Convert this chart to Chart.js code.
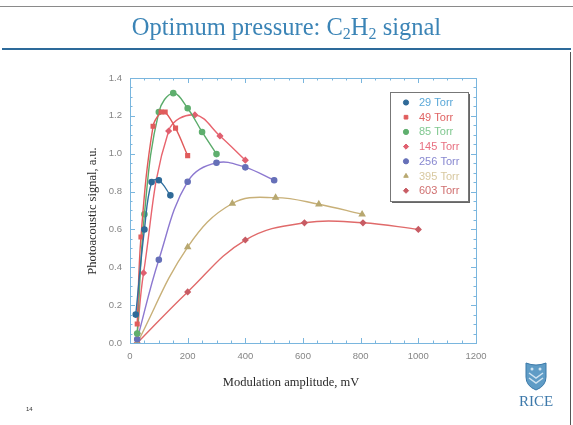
<!DOCTYPE html>
<html>
<head>
<meta charset="utf-8">
<script src="https://cdn.jsdelivr.net/npm/chart.js"></script>
<style>
  html, body { margin: 0; padding: 0; background: #fff; }
  #slide { position: relative; width: 573px; height: 425px; overflow: hidden; background: #fff; }
  #chart { position: absolute; left: 0; top: 0; }
  .title { position: absolute; left: 0; width: 573px; top: 13px; text-align: center;
           font-family: "Liberation Serif", "DejaVu Serif", serif; font-size: 24.5px; color: #3b84b6; }
  .title sub { font-size: 16px; vertical-align: -4px; line-height: 0; }
  .topline { position: absolute; left: 0; top: 6px; width: 573px; height: 1px; background: #8a8a8a; }
  .rule { position: absolute; left: 2px; top: 48px; width: 569px; height: 2px; background: #2d6a9a; }
  .rborder { position: absolute; left: 570px; top: 52px; width: 1px; height: 373px; background: #555; }
  .num { position: absolute; left: 26px; top: 406px; font: 6px "Liberation Sans", sans-serif; color: #333; }
  .rice { position: absolute; left: 516px; top: 361px; width: 40px; text-align: center; }
  .rice span { display: block; font-family: "Liberation Serif", serif; font-size: 15px; color: #3c78aa; margin-top: -2px; }
</style>
</head>
<body>
<div id="slide">
  <canvas id="chart" width="573" height="425"></canvas>
  <div class="topline"></div>
  <div class="title">Optimum pressure: C<sub>2</sub>H<sub>2</sub> signal</div>
  <div class="rule"></div>
  <div class="rborder"></div>
  <div class="num">14</div>
  <div class="rice">
    <svg width="24" height="30" viewBox="0 0 24 30">
      <path d="M2 2 Q12 6 22 2 L22 16 Q22 25 12 29 Q2 25 2 16 Z" fill="#5f9cc6" stroke="#3a78a8" stroke-width="1"/>
      <path d="M5 12 L12 17 L19 12 M5 17 L12 22 L19 17" fill="none" stroke="#cfe3f1" stroke-width="1.5"/>
      <circle cx="8" cy="8" r="1.5" fill="#cfe3f1"/><circle cx="16" cy="8" r="1.5" fill="#cfe3f1"/>
    </svg>
    <span>RICE</span>
  </div>
</div>
<script>
const seriesLabels = ["29 Torr", "49 Torr", "85 Torr", "145 Torr", "256 Torr", "395 Torr", "603 Torr"];

const x29 = [20, 50, 75, 100, 140];
const y29 = [0.15, 0.6, 0.85, 0.86, 0.78];
const x49 = [25, 38, 80, 108, 122, 158, 200];
const y49 = [0.1, 0.56, 1.145, 1.22, 1.22, 1.135, 0.99];
const x85 = [25, 50, 100, 150, 200, 250, 300];
const y85 = [0.05, 0.68, 1.22, 1.32, 1.24, 1.115, 0.998];
const x145 = [25, 47, 134, 225, 312, 400];
const y145 = [0.05, 0.37, 1.12, 1.205, 1.094, 0.966];
const x256 = [25, 100, 200, 300, 400, 500];
const y256 = [0.02, 0.44, 0.852, 0.952, 0.928, 0.86];
const x395 = [25, 200, 355, 505, 655, 805];
const y395 = [0.0, 0.507, 0.737, 0.768, 0.733, 0.68];
const x603 = [25, 200, 400, 605, 808, 1000];
const y603 = [0.0, 0.27, 0.544, 0.635, 0.635, 0.6];

const xTicks = [0, 200, 400, 600, 800, 1000, 1200];
const yTicks = [0, 0.2, 0.4, 0.6, 0.8, 1.0, 1.2, 1.4];

const lineColors = ["#2f6f9f", "#e05a5a", "#5aab6a", "#e8646e", "#8c78d0", "#c8b078", "#e06a6a"];
const markColors = ["#2f6a98", "#e05c5c", "#5faf6e", "#e06070", "#6670b8", "#b8a870", "#c85c64"];
const textColors = ["#5aa8d8", "#e06464", "#80c890", "#e87080", "#8888d0", "#d8c8a0", "#d07070"];
const markStyles = ["circle", "rect", "circle", "rectRot", "circle", "triangle", "rectRot"];

const xs = [x29, x49, x85, x145, x256, x395, x603];
const ys = [y29, y49, y85, y145, y256, y395, y603];

const datasets = seriesLabels.map((lab, i) => ({
  label: lab,
  data: xs[i].map((x, j) => ({ x: x, y: ys[i][j] })),
  borderColor: lineColors[i],
  backgroundColor: markColors[i],
  pointBorderColor: markColors[i],
  pointStyle: markStyles[i],
  pointRadius: markStyles[i] === "triangle" ? 3 : 2.6,
  borderWidth: 1.4,
  tension: 0.4,
  fill: false
}));

const frame = {
  id: "frame",
  afterDraw(chart) {
    const ctx = chart.ctx;
    const a = chart.chartArea;
    const sx = chart.scales.x, sy = chart.scales.y;
    ctx.save();
    ctx.strokeStyle = "#7ab6de";
    ctx.lineWidth = 1;
    ctx.strokeRect(a.left + 0.5, a.top + 0.5, a.right - a.left, a.bottom - a.top);
    ctx.beginPath();
    for (let v = 0; v <= 1200; v += 50) {
      const p = Math.round(sx.getPixelForValue(v)) + 0.5;
      const len = v % 200 === 0 ? 5 : 2.5;
      ctx.moveTo(p, a.bottom); ctx.lineTo(p, a.bottom - len);
      ctx.moveTo(p, a.top); ctx.lineTo(p, a.top + len);
    }
    for (let k = 0; k <= 28; k++) {
      const v = k * 0.05;
      const p = Math.round(sy.getPixelForValue(v)) + 0.5;
      const len = k % 4 === 0 ? 5 : 2.5;
      ctx.moveTo(a.left, p); ctx.lineTo(a.left + len, p);
      ctx.moveTo(a.right, p); ctx.lineTo(a.right - len, p);
    }
    ctx.stroke();

    // axis titles
    ctx.fillStyle = "#2a2a2a";
    ctx.font = '12.5px "Liberation Serif", serif';
    ctx.textAlign = "center";
    ctx.textBaseline = "middle";
    ctx.fillText("Modulation amplitude, mV", 291, 383);
    ctx.save();
    ctx.translate(93, 211);
    ctx.rotate(-Math.PI / 2);
    ctx.fillText("Photoacoustic signal, a.u.", 0, 0);
    ctx.restore();

    // legend box
    const bx = 390, by = 92, bw = 78, bh = 109;
    ctx.fillStyle = "#666";
    ctx.fillRect(bx + 2, by + 2, bw, bh);
    ctx.fillStyle = "#fff";
    ctx.fillRect(bx, by, bw, bh);
    ctx.strokeStyle = "#777";
    ctx.lineWidth = 1;
    ctx.strokeRect(bx + 0.5, by + 0.5, bw, bh);
    ctx.font = '11px "Liberation Sans", Arial, sans-serif';
    ctx.textAlign = "left";
    seriesLabels.forEach((lab, i) => {
      const yy = 102.5 + i * 14.7;
      ctx.fillStyle = markColors[i];
      ctx.strokeStyle = markColors[i];
      Chart.helpers.drawPoint(ctx, { pointStyle: markStyles[i], radius: 2.6, borderWidth: 1 }, 406, yy);
      ctx.fillStyle = textColors[i];
      ctx.fillText(lab, 419, yy + 0.5);
    });
    ctx.restore();
  }
};

new Chart("chart", {
  type: "line",
  data: { datasets: datasets },
  options: {
    responsive: false,
    animation: false,
    layout: { padding: { left: 80, right: 97, top: 78, bottom: 32 } },
    plugins: { legend: { display: false }, tooltip: { enabled: false } },
    scales: {
      x: {
        type: "linear", min: 0, max: 1200,
        afterBuildTicks: s => { s.ticks = xTicks.map(v => ({ value: v })); },
        afterFit: s => { s.height = 50; },
        grid: { display: false },
        border: { display: false },
        ticks: { color: "#858585", padding: 0, callback: v => String(v),
                 font: { size: 9.5, family: '"Liberation Sans", Arial, sans-serif' } }
      },
      y: {
        min: 0, max: 1.4,
        afterBuildTicks: s => { s.ticks = yTicks.map(v => ({ value: v })); },
        afterFit: s => { s.width = 50; },
        grid: { display: false },
        border: { display: false },
        ticks: { color: "#858585", padding: 0, callback: v => v.toFixed(1),
                 font: { size: 9.5, family: '"Liberation Sans", Arial, sans-serif' } }
      }
    }
  },
  plugins: [frame]
});
</script>
</body>
</html>
